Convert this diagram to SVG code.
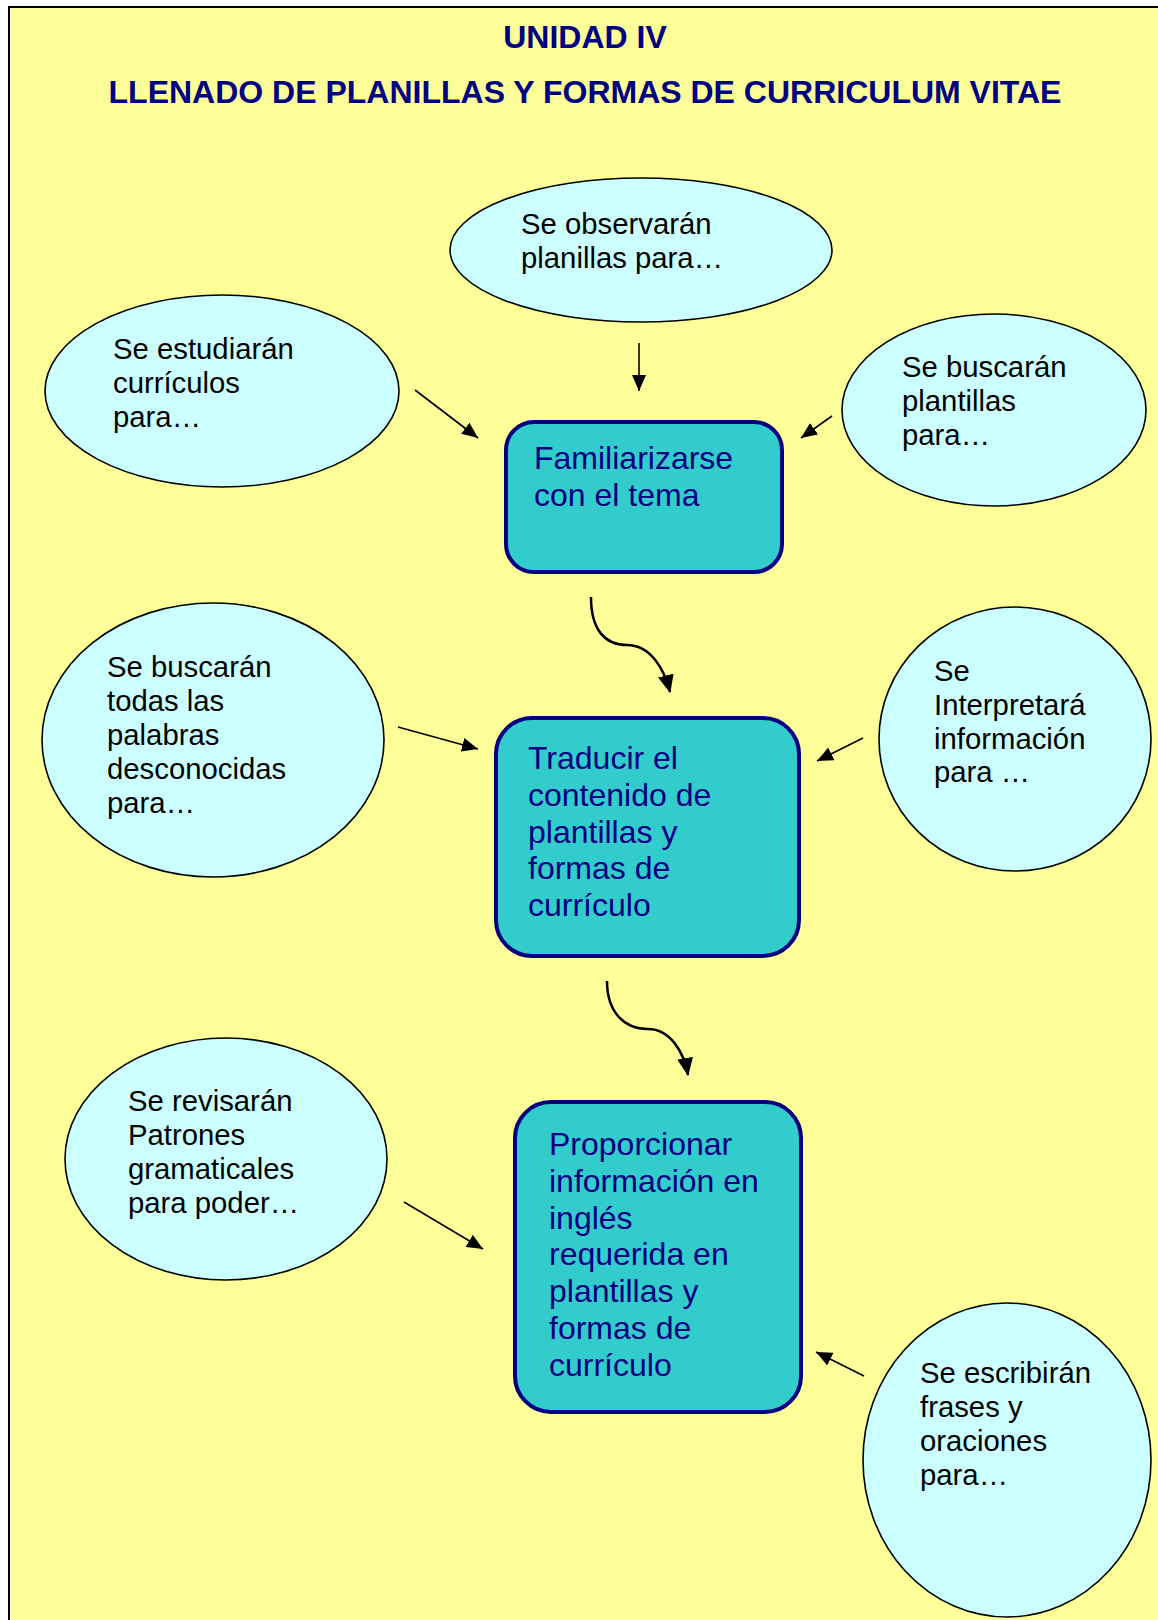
<svg xmlns="http://www.w3.org/2000/svg" width="1158" height="1620" viewBox="0 0 1158 1620">
<defs>
<marker id="ah" markerUnits="userSpaceOnUse" markerWidth="16" markerHeight="14" refX="16" refY="7" orient="auto">
<path d="M0,0 L16,7 L0,14 z" fill="#000"/>
</marker>
<marker id="ahc" markerUnits="userSpaceOnUse" markerWidth="18" markerHeight="16" refX="17" refY="8" orient="auto">
<path d="M0,0 L18,8 L0,16 z" fill="#000"/>
</marker>
</defs>
<style>
.ell{fill:#CCFFFF;stroke:#000;stroke-width:1.6}
.box{fill:#33CCCC;stroke:#000080;stroke-width:4}
.et{font-family:"Liberation Sans",Arial,sans-serif;font-size:29.3px;fill:#000}
.bt{font-family:"Liberation Sans",Arial,sans-serif;font-size:32px;fill:#000080}
.ttl{font-family:"Liberation Sans",Arial,sans-serif;font-size:32px;font-weight:bold;fill:#000080;text-anchor:middle}
.ln{stroke:#000;stroke-width:1.6;fill:none;marker-end:url(#ah)}
.cv{stroke:#000;stroke-width:2.5;fill:none;marker-end:url(#ahc)}
</style>
<rect x="0" y="0" width="1158" height="1620" fill="#FFFFFF"/>
<rect x="9" y="7" width="1200" height="1700" fill="#FFFF99" stroke="#000" stroke-width="2"/>
<g id="title">
<text class="ttl" x="585" y="48">UNIDAD IV</text>
<text class="ttl" x="585" y="103">LLENADO DE PLANILLAS Y FORMAS DE CURRICULUM VITAE</text>
</g>
<g id="connectors">
<line class="ln" x1="639" y1="343" x2="639" y2="391"/>
<line class="ln" x1="415" y1="390" x2="478" y2="438"/>
<line class="ln" x1="832" y1="416" x2="801" y2="438"/>
<line class="ln" x1="398" y1="727" x2="478" y2="749"/>
<line class="ln" x1="863" y1="738" x2="817" y2="761"/>
<line class="ln" x1="404" y1="1202" x2="483" y2="1249"/>
<line class="ln" x1="864" y1="1376" x2="816" y2="1352"/>
<path class="cv" d="M591,597 C591,630 605,645 627,645 C650,645 664,668 670,692"/>
<path class="cv" d="M607,981 C607,1012 624,1029 648,1029 C670,1029 684,1052 688,1075"/>
</g>
<g id="n-observaran">
<ellipse class="ell" cx="641" cy="250" rx="191" ry="72"/>
<text class="et" x="521" y="234">Se observarán</text>
<text class="et" x="521" y="268">planillas para…</text>
</g>
<g id="n-estudiaran">
<ellipse class="ell" cx="222" cy="391" rx="177" ry="96"/>
<text class="et" x="113" y="359">Se estudiarán</text>
<text class="et" x="113" y="393">currículos</text>
<text class="et" x="113" y="427">para…</text>
</g>
<g id="n-buscaran-plantillas">
<ellipse class="ell" cx="994" cy="410" rx="152" ry="96"/>
<text class="et" x="902" y="377">Se buscarán</text>
<text class="et" x="902" y="411">plantillas</text>
<text class="et" x="902" y="445">para…</text>
</g>
<g id="n-familiarizarse">
<rect class="box" x="506" y="422" width="276" height="150" rx="28" ry="28"/>
<text class="bt" x="534" y="469">Familiarizarse</text>
<text class="bt" x="534" y="506">con el tema</text>
</g>
<g id="n-buscaran-palabras">
<ellipse class="ell" cx="213" cy="740" rx="171" ry="137"/>
<text class="et" x="107" y="677">Se buscarán</text>
<text class="et" x="107" y="711">todas las</text>
<text class="et" x="107" y="745">palabras</text>
<text class="et" x="107" y="779">desconocidas</text>
<text class="et" x="107" y="813">para…</text>
</g>
<g id="n-interpretara">
<ellipse class="ell" cx="1015" cy="739" rx="136" ry="132"/>
<text class="et" x="934" y="681">Se</text>
<text class="et" x="934" y="715">Interpretará</text>
<text class="et" x="934" y="749">información</text>
<text class="et" x="934" y="782">para …</text>
</g>
<g id="n-traducir">
<rect class="box" x="496" y="718" width="303" height="238" rx="36" ry="36"/>
<text class="bt" x="528" y="769">Traducir el</text>
<text class="bt" x="528" y="806">contenido de</text>
<text class="bt" x="528" y="843">plantillas y</text>
<text class="bt" x="528" y="879">formas de</text>
<text class="bt" x="528" y="916">currículo</text>
</g>
<g id="n-revisaran">
<ellipse class="ell" cx="226" cy="1159" rx="161" ry="121"/>
<text class="et" x="128" y="1111">Se revisarán</text>
<text class="et" x="128" y="1145">Patrones</text>
<text class="et" x="128" y="1179">gramaticales</text>
<text class="et" x="128" y="1213">para poder…</text>
</g>
<g id="n-proporcionar">
<rect class="box" x="515" y="1102" width="286" height="310" rx="36" ry="36"/>
<text class="bt" x="549" y="1155">Proporcionar</text>
<text class="bt" x="549" y="1192">información en</text>
<text class="bt" x="549" y="1229">inglés</text>
<text class="bt" x="549" y="1265">requerida en</text>
<text class="bt" x="549" y="1302">plantillas y</text>
<text class="bt" x="549" y="1339">formas de</text>
<text class="bt" x="549" y="1376">currículo</text>
</g>
<g id="n-escribiran">
<ellipse class="ell" cx="1007" cy="1460" rx="144" ry="157"/>
<text class="et" x="920" y="1383">Se escribirán</text>
<text class="et" x="920" y="1417">frases y</text>
<text class="et" x="920" y="1451">oraciones</text>
<text class="et" x="920" y="1485">para…</text>
</g>
</svg>
